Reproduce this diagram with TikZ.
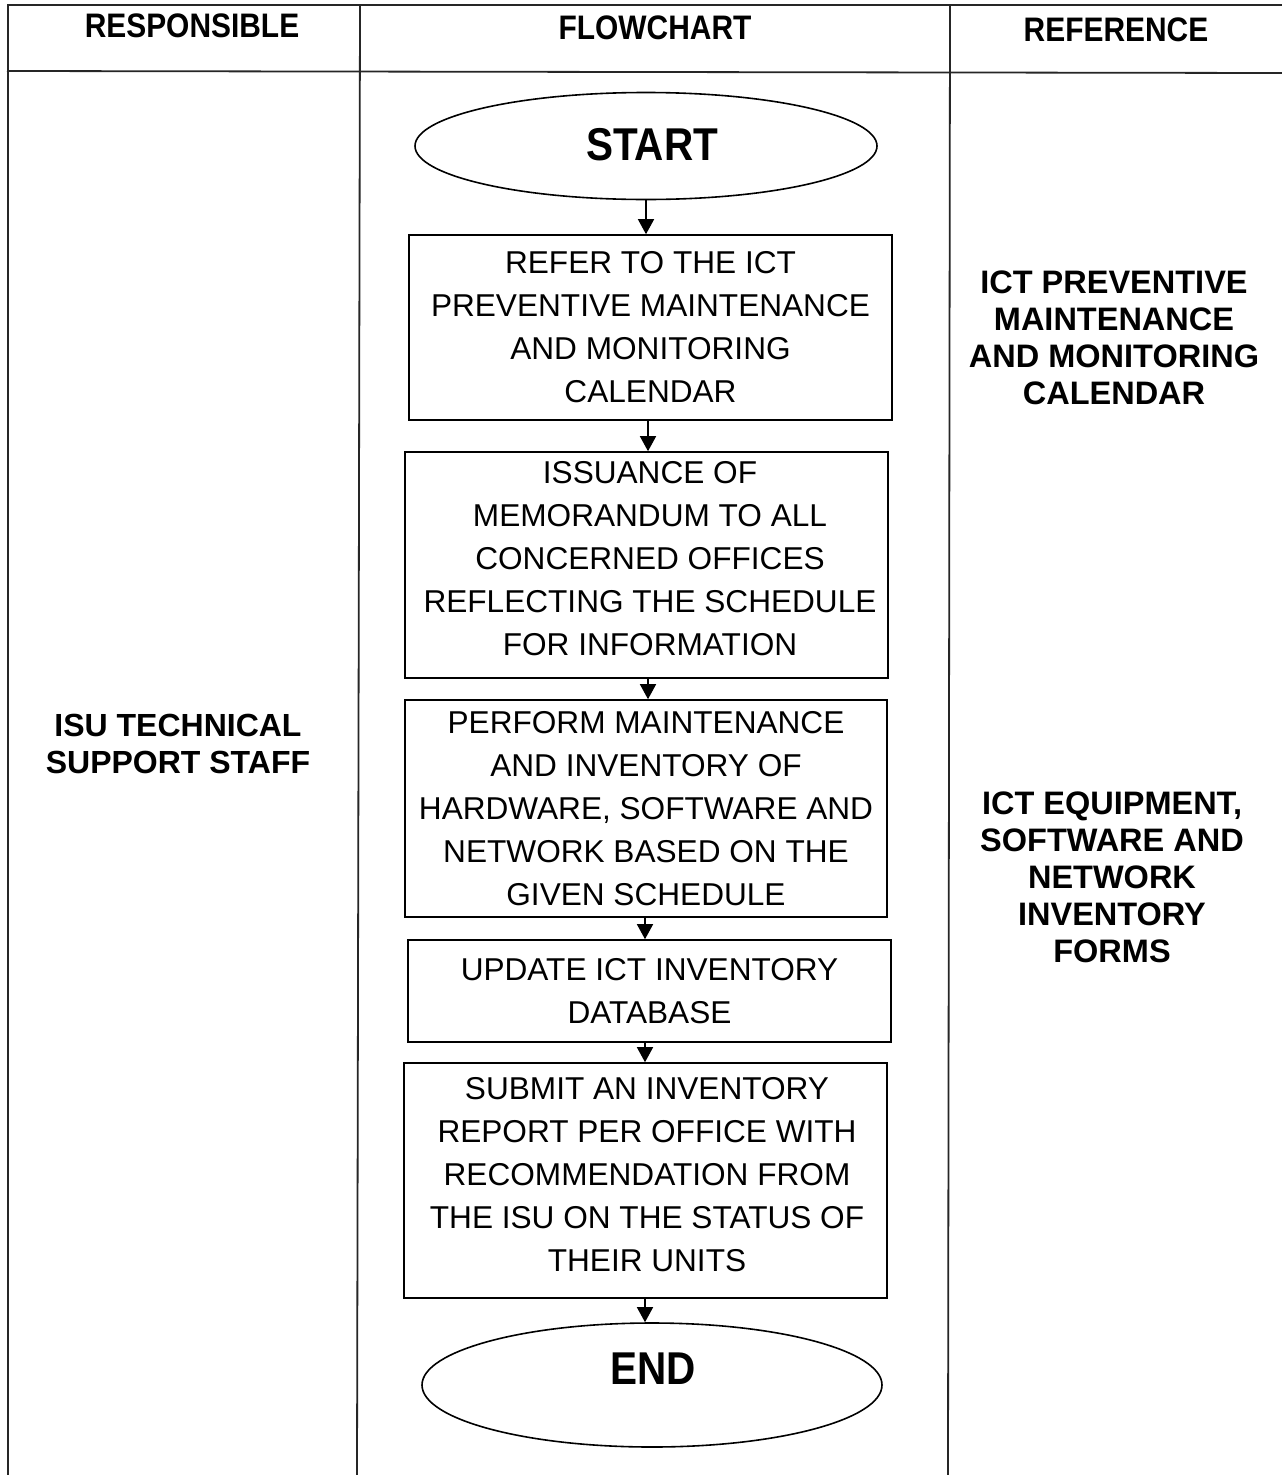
\documentclass[tikz,border=0pt]{standalone}
\usepackage{fontspec}
\setmainfont{Liberation Sans}
\newfontfamily\hdrfont{Liberation Sans}[FakeStretch=0.88]
\usetikzlibrary{shapes.geometric,arrows.meta}
\begin{document}
\begin{tikzpicture}[x=1pt,y=-1pt,
  tbl/.style={line width=1.8pt,draw=black!85},
  hdr/.style={font=\hdrfont\fontsize{34}{37}\selectfont\bfseries,anchor=center,inner sep=0pt},
  side/.style={font=\fontsize{32.5}{37}\selectfont\bfseries,align=center,inner sep=0pt},
  procbox/.style={draw,line width=1.6pt,rectangle,inner sep=0pt,align=center,
    font=\fontsize{31.6}{43}\selectfont},
  boxtext/.style={font=\fontsize{31.6}{43}\selectfont,align=center,inner sep=0pt},
  term/.style={draw,line width=1.6pt,ellipse,inner sep=0pt},
  termtext/.style={font=\hdrfont\fontsize{46}{46}\selectfont\bfseries,inner sep=0pt},
  arr/.style={line width=1.5pt,-{Triangle[width=16pt,length=15pt]}}]
\useasboundingbox (0,0) rectangle (1282,1475);
\fill[white] (0,0) rectangle (1282,1475);
% table
\draw[tbl] (7,5) -- (1282,5);
\draw[tbl] (7,71) -- (1282,73);
\draw[tbl] (8,5) -- (8,1475);
\draw[tbl] (360,5) -- (357,1475);
\draw[tbl] (950,5) -- (948,1475);
% headers
\node[hdr] (h1) at (192,26) {RESPONSIBLE};
\node[hdr] (h2) at (655,28) {FLOWCHART};
\node[hdr] (h3) at (1116,30) {REFERENCE};
% side texts
\node[side,font=\fontsize{32}{37}\selectfont\bfseries] (resp) at (178,744) {ISU TECHNICAL\\SUPPORT STAFF};
\node[side] (ref1) at (1114,338) {ICT PREVENTIVE\\MAINTENANCE\\AND MONITORING\\CALENDAR};
\node[side] (ref2) at (1112,877) {ICT EQUIPMENT,\\SOFTWARE AND\\NETWORK\\INVENTORY\\FORMS};
% flowchart
\node[term,minimum width=462pt,minimum height=107pt] (start) at (646,146) {};
\node[termtext] (starttxt) at (652,145) {START};
\node[procbox,minimum width=483pt,minimum height=185pt] (b1) at (650.5,327.5)
  {REFER TO THE ICT\\PREVENTIVE MAINTENANCE\\AND MONITORING\\CALENDAR};
\node[procbox,minimum width=483pt,minimum height=226pt] (b2) at (646.5,565) {};
\node[boxtext] (b2t) at (650,559)
  {ISSUANCE OF\\MEMORANDUM TO ALL\\CONCERNED OFFICES\\REFLECTING THE SCHEDULE\\FOR INFORMATION};
\node[procbox,minimum width=482pt,minimum height=217pt] (b3) at (646,808.5)
  {PERFORM MAINTENANCE\\AND INVENTORY OF\\HARDWARE, SOFTWARE AND\\NETWORK BASED ON THE\\GIVEN SCHEDULE};
\node[procbox,minimum width=483pt,minimum height=102pt] (b4) at (649.5,991)
  {UPDATE ICT INVENTORY\\DATABASE};
\node[procbox,minimum width=483pt,minimum height=235pt] (b5) at (645.5,1180.5) {};
\node[boxtext] (b5t) at (647,1175)
  {SUBMIT AN INVENTORY\\REPORT PER OFFICE WITH\\RECOMMENDATION FROM\\THE ISU ON THE STATUS OF\\THEIR UNITS};
\node[term,minimum width=460pt,minimum height=124pt] (end) at (652,1385) {};
\node[termtext] (endtxt) at (653,1369) {END};
% arrows
\draw[arr] (start.south) -- (start.south |- b1.north);
\draw[arr] (b1.south -| 648,0) -- (b2.north -| 648,0);
\draw[arr] (b2.south -| 648,0) -- (b3.north -| 648,0);
\draw[arr] (b3.south -| 645,0) -- (b4.north -| 645,0);
\draw[arr] (b4.south -| 645,0) -- (b5.north -| 645,0);
\draw[arr] (b5.south -| 645,0) -- (end.north -| 645,0);
\end{tikzpicture}
\end{document}
